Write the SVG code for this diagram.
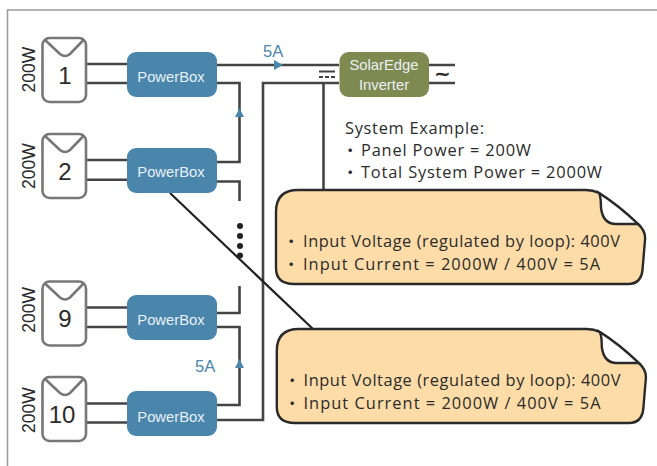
<svg xmlns="http://www.w3.org/2000/svg" width="657" height="466" viewBox="0 0 657 466">
<style>
text{font-family:"Open Sans","Liberation Sans","Noto Sans CJK JP",sans-serif;fill:#2b2b2b}
.w{fill:none;stroke:#444;stroke-width:2.6}
.t{fill:none;stroke:#222;stroke-width:2.2}
.panel{fill:#fff;stroke:#777;stroke-width:2.6}
.flap{fill:none;stroke:#777;stroke-width:2.6}
.num{font-size:24px;text-anchor:middle;font-family:"Liberation Sans",sans-serif}
.watt{font-size:17.500px;font-family:"Liberation Sans",sans-serif}
.pb{fill:#4a86ac}
.pbt{fill:#e8f0f5;font-size:14.800px;text-anchor:middle;font-family:"Liberation Sans",sans-serif}
.blue{fill:#4a86ac;font-size:16.500px;font-family:"Liberation Sans",sans-serif}
.arr{fill:#4a86ac}
.nt{font-size:16.400px}
.note{fill:#fddca8;stroke:#2a2a2a;stroke-width:2.4}
.fold{fill:#fff;stroke:#2a2a2a;stroke-width:2.4}
</style>
<defs>
<g id="pv">
<rect class="panel" x="42.500" y="0" width="43.500" height="64" rx="7"/>
<path class="flap" d="M44.500 1.500L60 16Q65 20 70 16L84 1.500"/>
</g>
<rect id="pbr" class="pb" x="127" y="0" width="90" height="45" rx="9"/>
<g id="nt">
<path class="note" d="M276 212Q276 190 298 190L586 190Q593 190 599 193Q618 205 638 224Q646 231 645 240L642.500 270Q641 284 628 284L294 284Q276 284 276 268Z"/>
<path class="fold" d="M599 193Q601 197 601 208Q603 224 616 224L638 224Q618 205 599 193Z"/>
</g>
</defs>
<path d="M7.500 466V10H657" fill="none" stroke="#999" stroke-width="1.500"/>
<g id="connectors">
<path class="w" d="M86 64H127M86 83H127M86 160H127M86 179.700H127M86 307.500H127M86 327H127M86 403.500H127M86 422.500H127"/>
<path class="w" d="M217 65H339M217 83H239.500V162H217M217 181.500H239.500V201M239.500 286V313H214M217 327H239.500V405H217M217 420H263V83H339M429 65H455M429 83H455"/>
<path class="w" d="M323.500 83V190"/>
<path class="t" d="M170 193L313 329"/>
<path d="M319 71.500H335" stroke="#444" stroke-width="2" fill="none"/>
<path d="M319 77H335" stroke="#444" stroke-width="2" stroke-dasharray="4 2" fill="none"/>
<g fill="#222"><circle cx="240" cy="226" r="3"/><circle cx="240" cy="236" r="3"/><circle cx="240" cy="246" r="3"/><circle cx="240" cy="255.500" r="3"/></g>
<path class="arr" d="M274 60L283 65L274 70ZM235 117L239.500 108L244 117ZM235 368L239.500 359L244 368Z"/>
</g>
<g id="panel1"><use href="#pv" y="38"/><text class="num" x="65" y="84">1</text><text class="watt" transform="translate(35 92.500) rotate(-90)">200W</text></g>
<g id="panel2"><use href="#pv" y="134"/><text class="num" x="65" y="180">2</text><text class="watt" transform="translate(35 189) rotate(-90)">200W</text></g>
<g id="panel9"><use href="#pv" y="281.500"/><text class="num" x="65" y="327">9</text><text class="watt" transform="translate(35 332.700) rotate(-90)">200W</text></g>
<g id="panel10"><use href="#pv" y="377"/><text class="num" x="62" y="423">10</text><text class="watt" transform="translate(35 433) rotate(-90)">200W</text></g>
<g id="pb1"><use href="#pbr" y="52"/><text class="pbt" x="171" y="82">PowerBox</text></g>
<g id="pb2"><use href="#pbr" y="148"/><text class="pbt" x="171" y="177">PowerBox</text></g>
<g id="pb9"><use href="#pbr" y="295"/><text class="pbt" x="171" y="325">PowerBox</text></g>
<g id="pb10"><use href="#pbr" y="391"/><text class="pbt" x="171" y="421.500">PowerBox</text></g>
<g id="inverter"><rect x="339.500" y="52" width="89.500" height="45" rx="9" fill="#7e8a50"/>
<text class="pbt" x="384" y="70">SolarEdge</text><text class="pbt" x="384" y="90">Inverter</text></g>
<text class="blue" x="263" y="57">5A</text>
<text class="blue" x="195" y="372">5A</text>
<text x="434" y="80" font-size="20" font-weight="bold" style="font-family:'DejaVu Sans',sans-serif">~</text>
<g id="system-example">
<text class="nt" x="345" y="133.500" textLength="139">System Example:</text>
<text class="nt" x="342" y="156">・</text><text class="nt" x="361" y="156" textLength="170">Panel Power = 200W</text>
<text class="nt" x="342" y="178">・</text><text class="nt" x="361" y="178" textLength="241">Total System Power = 2000W</text>
</g>
<g id="note1"><use href="#nt"/>
<text class="nt" x="283" y="246.500">・</text><text class="nt" x="303" y="246.500" textLength="317">Input Voltage (regulated by loop): 400V</text>
<text class="nt" x="283" y="269.500">・</text><text class="nt" x="303" y="269.500" textLength="297">Input Current = 2000W / 400V = 5A</text></g>
<g id="note2"><use href="#nt" x="0.800" y="139"/>
<text class="nt" x="284" y="385.500">・</text><text class="nt" x="303.500" y="385.500" textLength="317">Input Voltage (regulated by loop): 400V</text>
<text class="nt" x="284" y="408.500">・</text><text class="nt" x="303.500" y="408.500" textLength="297">Input Current = 2000W / 400V = 5A</text></g>
</svg>
